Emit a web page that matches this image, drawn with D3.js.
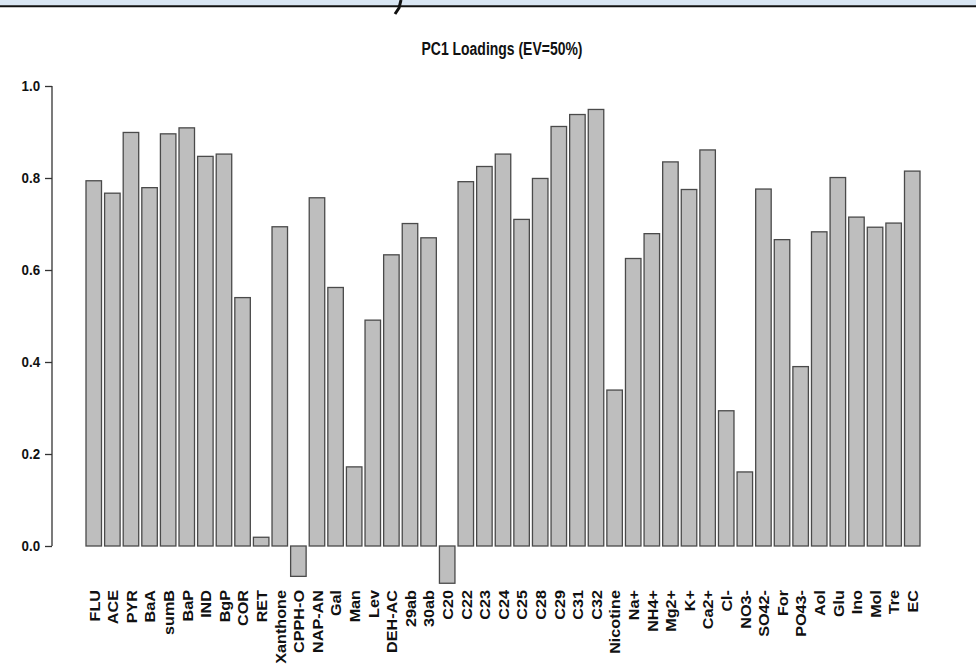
<!DOCTYPE html>
<html><head><meta charset="utf-8">
<script src="https://cdn.jsdelivr.net/npm/d3@7"></script>
<style>html,body{margin:0;padding:0;background:#fff;}svg{display:block;}</style>
</head><body>
<script>
const categories = ["FLU","ACE","PYR","BaA","sumB","BaP","IND","BgP","COR","RET","Xanthone","CPPH-O","NAP-AN","Gal","Man","Lev","DEH-AC","29ab","30ab","C20","C22","C23","C24","C25","C28","C29","C31","C32","Nicotine","Na+","NH4+","Mg2+","K+","Ca2+","Cl-","NO3-","SO42-","For","PO43-","Aol","Glu","Ino","Mol","Tre","EC"];
const loadings = [0.794,0.767,0.899,0.779,0.896,0.909,0.847,0.852,0.540,0.019,0.694,-0.066,0.757,0.562,0.172,0.491,0.633,0.701,0.670,-0.081,0.792,0.825,0.852,0.710,0.799,0.912,0.938,0.949,0.339,0.625,0.679,0.835,0.775,0.861,0.294,0.161,0.776,0.666,0.390,0.683,0.801,0.715,0.693,0.702,0.815];
const yTicks = [0.0,0.2,0.4,0.6,0.8,1.0];
const title = "PC1 Loadings (EV=50%)";

const W = 976, H = 666;
const FONT = "'Liberation Sans', Arial, sans-serif";
const svg = d3.select("body").append("svg").attr("width", W).attr("height", H);
svg.append("rect").attr("width", W).attr("height", H).attr("fill", "#fff");

// top banner remnant
svg.append("rect").attr("x",0).attr("y",0).attr("width",W).attr("height",5.5).attr("fill","#d9e6f3");
svg.append("line").attr("x1",0).attr("x2",W).attr("y1",6.2).attr("y2",6.2).attr("stroke","#111").attr("stroke-width",2);
svg.append("path").attr("d","M401,0 L399,8 L395,14").attr("stroke","#111").attr("stroke-width",3).attr("fill","none");

const x = d3.scaleBand().domain(categories).range([86, 920]).paddingInner(1/6).paddingOuter(0);
const y = d3.scaleLinear().domain([0, 1]).range([546, 86]);

// bars
svg.append("g").selectAll("rect").data(categories).join("rect")
  .attr("x", d => x(d))
  .attr("width", x.bandwidth())
  .attr("y", (d,i) => y(Math.max(0, loadings[i])))
  .attr("height", (d,i) => Math.abs(y(loadings[i]) - y(0)))
  .attr("fill", "#bebebe")
  .attr("stroke", "#4a4a4a")
  .attr("stroke-width", 1.3);

// y axis
const yAxis = d3.axisLeft(y).tickValues(yTicks).tickFormat(d3.format(".1f")).tickSize(7).tickPadding(6);
const ga = svg.append("g").attr("transform","translate(52,0)").call(yAxis);
ga.select(".domain").attr("stroke","#333").attr("stroke-width",1.3).attr("d","M0,86V546");
ga.selectAll(".tick line").attr("stroke","#333").attr("stroke-width",1.3);
ga.selectAll(".tick text").attr("fill","#111").attr("font-family",FONT)
  .attr("font-weight","bold").attr("font-size","14.5px").attr("transform","scale(0.92,1)");

// x labels
svg.append("g").selectAll("text").data(categories).join("text")
  .attr("transform", d => `translate(${x(d) + x.bandwidth()/2 + 5.8},590) rotate(-90) scale(1.14,1)`)
  .attr("text-anchor","end")
  .attr("font-family",FONT)
  .attr("font-weight","bold").attr("font-size","14.2px").attr("fill","#111")
  .text(d => d);

// title
svg.append("text").attr("x", 502).attr("y", 55).attr("text-anchor","middle")
  .attr("font-family",FONT)
  .attr("font-weight","bold").attr("font-size","17.5px").attr("fill","#111")
  .attr("textLength", 161).attr("lengthAdjust","spacingAndGlyphs")
  .text(title);
</script>
</body></html>
